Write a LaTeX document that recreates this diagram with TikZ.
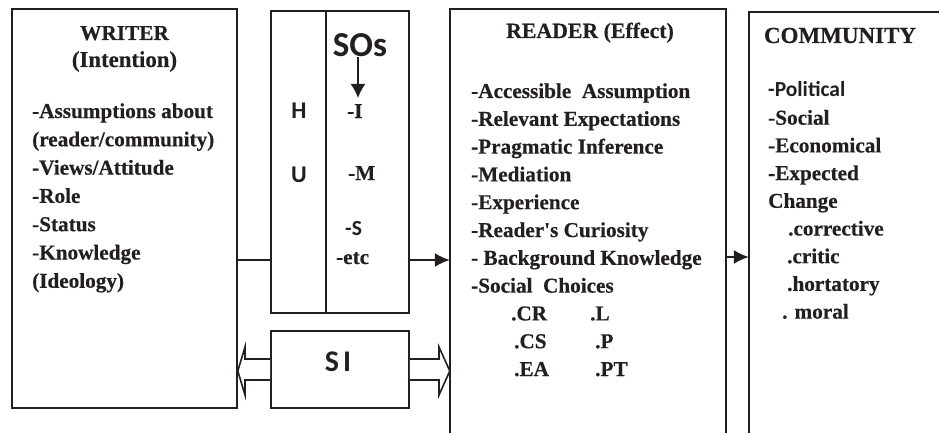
\documentclass[tikz,border=0pt]{standalone}
\usepackage{fontspec}
\setmainfont{Liberation Serif}[BoldFeatures={FakeBold=0.4}]
\newfontfamily\sansb{Carlito}
\usetikzlibrary{arrows.meta}
\definecolor{ink}{HTML}{231F20}
\begin{document}
\begin{tikzpicture}[x=1pt,y=-1pt,
  boxs/.style={draw=ink, line width=1.6pt, inner sep=0pt},
  ghost/.style={draw=none, inner sep=0pt},
  txt/.style={anchor=base west, inner sep=0pt, text=ink, font=\fontsize{21.2}{24}\selectfont\bfseries},
  ttl/.style={anchor=base, inner sep=0pt, text=ink, font=\fontsize{21.3}{24}\selectfont\bfseries},
  stx/.style={anchor=base west, inner sep=0pt, text=ink, font=\fontsize{21.5}{24}\selectfont\sansb\bfseries},
  sct/.style={anchor=base, inner sep=0pt, text=ink},
  conn/.style={draw=ink, line width=1.6pt},
  arr/.style={conn, -{Latex[length=15pt,width=14pt]}},
  hollow/.style={draw=ink, line width=1.6pt, fill=white, line join=miter}
]
\useasboundingbox (0,0) rectangle (939,433);
% boxes
\node[boxs, minimum width=225pt, minimum height=399pt] (writer) at (124.5,208.5) {};
\node[boxs, minimum width=138pt, minimum height=302pt] (hu) at (340,162) {};
\node[boxs, minimum width=138pt, minimum height=77pt] (si) at (340,369.5) {};
\node[ghost, minimum width=276pt, minimum height=424pt] (reader) at (588,221) {};
\node[ghost, minimum width=190pt, minimum height=421pt] (community) at (844,222.5) {};
\draw[conn] (reader.south west) -- (reader.north west) -- (reader.north east) -- (reader.south east);
\draw[conn] (community.south west) -- (community.north west) -- (community.north east);
% divider in HU box
\coordinate (div) at (326,0);
\draw[draw=ink, line width=1.3pt] (hu.north -| div) -- (hu.south -| div);

% writer text
\node[ttl] (wt1) at (124.5,40) {WRITER};
\node[ttl, font=\fontsize{22.8}{24}\selectfont\bfseries] (wt2) at (124.5,67) {(Intention)};
\node[txt] (w1) at (32,118) {-Assumptions about};
\node[txt] (w2) at (32,146.3) {(reader/community)};
\node[txt] (w3) at (32,174.6) {-Views/Attitude};
\node[txt] (w4) at (32,202.9) {-Role};
\node[txt] (w5) at (32,231.2) {-Status};
\node[txt] (w6) at (32,259.5) {-Knowledge};
\node[txt] (w7) at (32,287.8) {(Ideology)};

% middle text
\node[sct, font=\fontsize{35}{36}\selectfont\sansb\bfseries] (sos) at (360,57) {SOs};
\coordinate (soshead) at (358,98);
\draw[arr, -{Latex[length=14pt,width=15pt]}] (sos.south -| soshead) -- (soshead);
\node[sct, font=\fontsize{24}{26}\selectfont\sansb\bfseries] (h) at (299,118) {H};
\node[sct, font=\fontsize{24}{26}\selectfont\sansb\bfseries] (u) at (299,182) {U};
\node[txt] (mi) at (347,118) {-I};
\node[txt] (mm) at (348,180) {-M};
\node[stx] (ms) at (345,235) {-S};
\node[txt] (me) at (336,264) {-etc};
\node[sct, font=\fontsize{30}{30}\selectfont\sansb\bfseries] (sitxt) at (338,371) {S\hspace{4pt}I};

% reader text
\node[ttl, font=\fontsize{21.8}{24}\selectfont\bfseries] (rt) at (590,38) {READER (Effect)};
\node[txt] (r1) at (471,98) {-Accessible\ \ Assumption};
\node[txt] (r2) at (471,125.8) {-Relevant Expectations};
\node[txt] (r3) at (471,153.6) {-Pragmatic Inference};
\node[txt] (r4) at (471,181.4) {-Mediation};
\node[txt] (r5) at (471,209.2) {-Experience};
\node[txt] (r6) at (471,237) {-Reader\textquotesingle s Curiosity};
\node[txt] (r7) at (471,264.8) {- Background Knowledge};
\node[txt] (r8) at (471,292.6) {-Social\ \ Choices};
\node[txt] (c1) at (511,320.4) {.CR};
\node[txt] (c2) at (590,320.4) {.L};
\node[txt] (c3) at (514,348.2) {.CS};
\node[txt] (c4) at (595,348.2) {.P};
\node[txt] (c5) at (514,376) {.EA};
\node[txt] (c6) at (595,376) {.PT};

% community text
\node[ttl, font=\fontsize{23}{24}\selectfont\bfseries] (ct) at (840,43) {COMMUNITY};
\node[stx] (k1) at (768,97) {-Political};
\node[txt] (k2) at (768,124.7) {-Social};
\node[txt] (k3) at (768,152.4) {-Economical};
\node[txt] (k4) at (768,180.1) {-Expected};
\node[txt] (k5) at (768,207.8) {Change};
\node[txt] (k6) at (788,235.5) {.corrective};
\node[txt] (k7) at (787,263.2) {.critic};
\node[txt] (k8) at (787,290.9) {.hortatory};
\node[txt] (k9) at (782,318.6) {. moral};

% connectors
\coordinate (link) at (0,260);
\coordinate (link2) at (0,257);
\draw[conn] (writer.east |- link) -- (hu.west |- link);
\draw[arr] (hu.east |- link) -- (reader.west |- link);
\draw[arr] (reader.east |- link2) -- (community.west |- link2);

% hollow double arrows around SI
\draw[hollow] (si.west |- 0,359) -- (245,359) -- (245,347) -- (writer.east |- 0,371) -- (245,395) -- (245,380) -- (si.west |- 0,380);
\draw[hollow] (si.east |- 0,359) -- (439,359) -- (439,347) -- (reader.west |- 0,371) -- (439,395) -- (439,380) -- (si.east |- 0,380);
\end{tikzpicture}
\end{document}
